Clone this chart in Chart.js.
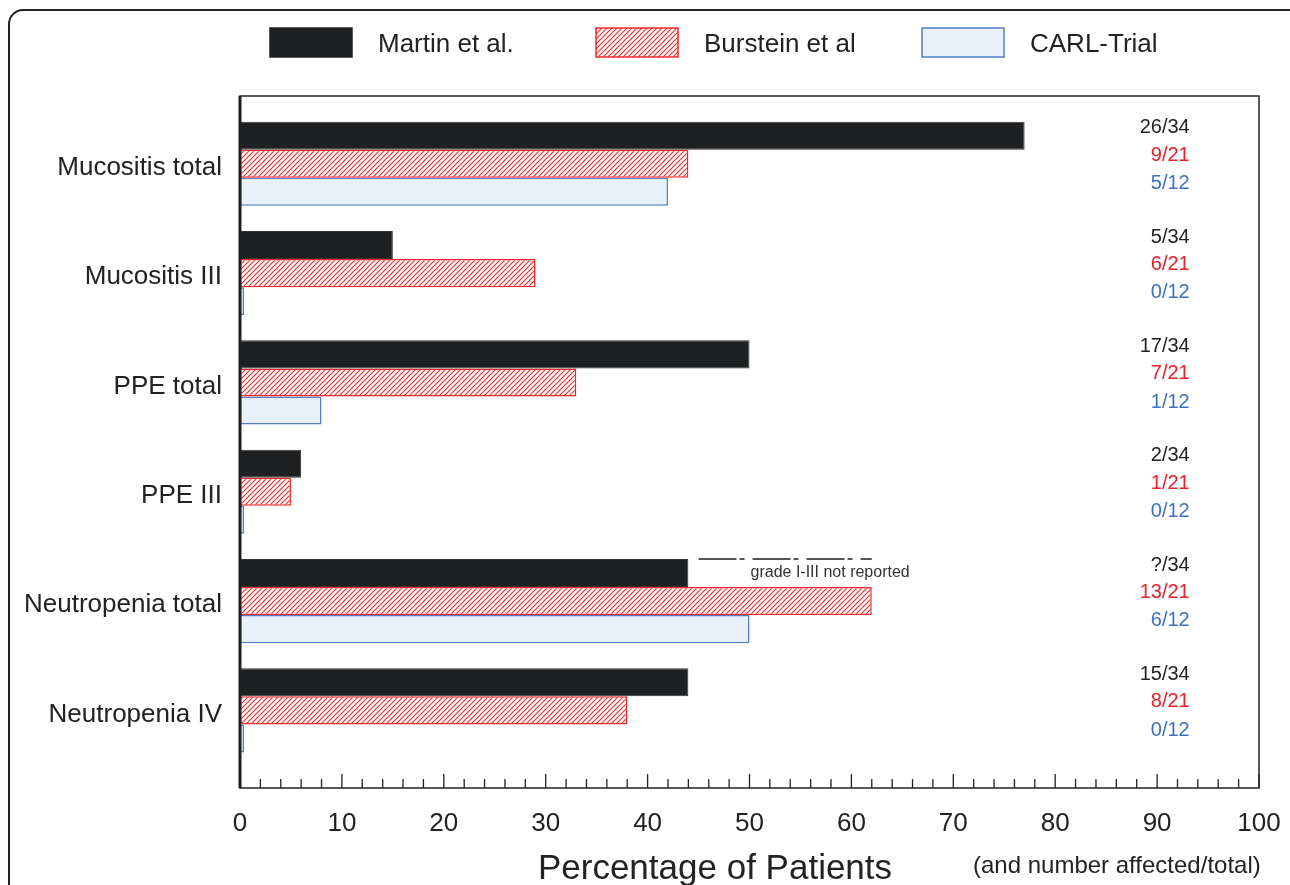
<!DOCTYPE html>
<html>
<head>
<meta charset="utf-8">
<script src="https://cdn.jsdelivr.net/npm/chart.js@4.4.1/dist/chart.umd.min.js"></script>
<style>
  html, body { margin: 0; padding: 0; background: #fff; }
  #wrap { width: 1290px; height: 885px; position: relative; }
</style>
</head>
<body>
<div id="wrap"><canvas id="toxChart"></canvas></div>
<script>
// --- data ---
const categories = ['Mucositis total', 'Mucositis III', 'PPE total', 'PPE III', 'Neutropenia total', 'Neutropenia IV'];
const seriesNames = ['Martin et al.', 'Burstein et al', 'CARL-Trial'];
const martinPct = [77, 15, 50, 6, 44, 44];
const bursteinPct = [44, 29, 33, 5, 62, 38];
const carlPct = [42, 0, 8, 0, 50, 0];
const martinCounts = ['26/34', '5/34', '17/34', '2/34', '?/34', '15/34'];
const bursteinCounts = ['9/21', '6/21', '7/21', '1/21', '13/21', '8/21'];
const carlCounts = ['5/12', '0/12', '1/12', '0/12', '6/12', '0/12'];
const xTicks = [0, 10, 20, 30, 40, 50, 60, 70, 80, 90, 100];
const notReportedRange = [45, 62]; // dash-dot line over Neutropenia total
const notReportedIndex = 4;

const FONT = '"Liberation Sans", Arial, Helvetica, sans-serif';
const BLACK = '#1f2022';
const RED = '#f0282a';
const BLUE_FILL = '#e8f1fa';
const BLUE_LINE = '#4f7fc4';

// red diagonal hatch
function makeHatch() {
    const c = document.createElement('canvas');
    c.width = 5; c.height = 5;
    const g = c.getContext('2d');
    g.fillStyle = '#fff';
    g.fillRect(0, 0, 5, 5);
    g.strokeStyle = RED;
    g.lineWidth = 1.1;
    g.beginPath();
    g.moveTo(-1, 6); g.lineTo(6, -1);
    g.moveTo(-1, 1); g.lineTo(1, -1);
    g.moveTo(4, 6); g.lineTo(6, 4);
    g.stroke();
    return g.createPattern(c, 'repeat');
}
const hatch = makeHatch();

function toPoints(arr) {
    return arr.map((v, i) => ({ x: v, y: i }));
}

// frame, box, inner ticks, legend, count labels, axis titles
const decorPlugin = {
    id: 'decor',
    afterDraw(chart) {
        const ctx = chart.ctx;
        const a = chart.chartArea;
        const xs = chart.scales.x;
        const ys = chart.scales.y;
        ctx.save();

        // outer rounded frame
        ctx.strokeStyle = '#222';
        ctx.lineWidth = 2;
        ctx.beginPath();
        ctx.roundRect(9, 10, 1300, 900, 14);
        ctx.stroke();

        // plot box
        ctx.lineWidth = 1.5;
        ctx.strokeRect(a.left, a.top, a.right - a.left, a.bottom - a.top);
        ctx.lineWidth = 3;
        ctx.beginPath();
        ctx.moveTo(a.left, a.top);
        ctx.lineTo(a.left, a.bottom);
        ctx.stroke();

        // inward tick marks, minor every 2
        ctx.lineWidth = 1.3;
        ctx.beginPath();
        for (let v = xs.min; v <= xs.max; v += 2) {
            const px = xs.getPixelForValue(v);
            const len = v % 10 === 0 ? 14 : 9;
            ctx.moveTo(px, a.bottom);
            ctx.lineTo(px, a.bottom - len);
        }
        ctx.stroke();

        // legend
        const fills = [BLACK, hatch, BLUE_FILL];
        const lines = [BLACK, RED, BLUE_LINE];
        ctx.font = '26px ' + FONT;
        ctx.textBaseline = 'middle';
        ctx.textAlign = 'left';
        seriesNames.forEach((name, i) => {
            const bx = 270 + i * 326;
            ctx.fillStyle = fills[i];
            ctx.fillRect(bx, 28, 82, 29);
            ctx.strokeStyle = lines[i];
            ctx.lineWidth = 1.5;
            ctx.strokeRect(bx, 28, 82, 29);
            ctx.fillStyle = '#222';
            ctx.fillText(name, bx + 108, 45);
        });

        // affected / total labels
        ctx.font = '20px ' + FONT;
        ctx.textAlign = 'right';
        const rx = xs.getPixelForValue(93.2);
        const rows = [[martinCounts, '#222', -0.33], [bursteinCounts, '#e8202a', -0.08], [carlCounts, '#3d72c0', 0.18]];
        categories.forEach((c, i) => {
            rows.forEach(([arr, col, off]) => {
                ctx.fillStyle = col;
                ctx.fillText(arr[i], rx, ys.getPixelForValue(i + off));
            });
        });

        // grade I-III not reported
        const bar = chart.getDatasetMeta(0).data[notReportedIndex];
        const ly = bar.y - bar.height / 2;
        ctx.strokeStyle = '#555';
        ctx.lineWidth = 2;
        ctx.setLineDash([38, 3, 5, 8]);
        ctx.beginPath();
        ctx.moveTo(xs.getPixelForValue(notReportedRange[0]), ly);
        ctx.lineTo(xs.getPixelForValue(notReportedRange[1]), ly);
        ctx.stroke();
        ctx.setLineDash([]);
        ctx.font = '16px ' + FONT;
        ctx.textAlign = 'left';
        ctx.fillStyle = '#333';
        ctx.fillText('grade I-III not reported', xs.getPixelForValue(50.1), ly + 14);

        // axis titles
        ctx.fillStyle = '#222';
        ctx.textAlign = 'center';
        ctx.font = '35px ' + FONT;
        ctx.fillText('Percentage of Patients', 715, 869);
        ctx.font = '24px ' + FONT;
        ctx.textAlign = 'left';
        ctx.fillText('(and number affected/total)', 973, 866);

        ctx.restore();
    }
};

new Chart(document.getElementById('toxChart'), {
    type: 'bar',
    data: {
        datasets: [
            {
                label: seriesNames[0],
                data: toPoints(martinPct),
                backgroundColor: BLACK,
                borderColor: '#333',
                borderWidth: 1,
                borderSkipped: false
            },
            {
                label: seriesNames[1],
                data: toPoints(bursteinPct),
                backgroundColor: hatch,
                borderColor: RED,
                borderWidth: 1.5,
                borderSkipped: false
            },
            {
                label: seriesNames[2],
                data: toPoints(carlPct),
                backgroundColor: BLUE_FILL,
                borderColor: BLUE_LINE,
                borderWidth: 1.5,
                borderSkipped: false,
                minBarLength: 4
            }
        ]
    },
    options: {
        indexAxis: 'y',
        responsive: true,
        maintainAspectRatio: false,
        animation: false,
        categoryPercentage: 0.77,
        barPercentage: 1.0,
        layout: { padding: { top: 96, right: 31, left: 0, bottom: 0 } },
        plugins: {
            legend: { display: false },
            tooltip: { enabled: false }
        },
        scales: {
            x: {
                type: 'linear',
                min: 0,
                max: 100,
                afterBuildTicks: (s) => { s.ticks = xTicks.map(v => ({ value: v })); },
                afterFit: (s) => { s.height = 97; s.paddingLeft = 0; s.paddingRight = 0; },
                grid: { display: false },
                border: { display: false },
                ticks: {
                    padding: 12,
                    color: '#222',
                    font: { family: FONT, size: 26 },
                    maxRotation: 0
                }
            },
            y: {
                type: 'linear',
                reverse: true,
                offset: false,
                min: -0.62,
                max: 5.71,
                afterBuildTicks: (s) => { s.ticks = categories.map((c, i) => ({ value: i })); },
                afterFit: (s) => { s.width = 240; s.paddingTop = 0; s.paddingBottom = 0; },
                grid: { display: false, offset: false },
                border: { display: false },
                ticks: {
                    padding: 10,
                    labelOffset: 4,
                    autoSkip: false,
                    color: '#222',
                    font: { family: FONT, size: 26 },
                    callback: (v) => categories[v]
                }
            }
        }
    },
    plugins: [decorPlugin]
});
</script>
</body>
</html>
